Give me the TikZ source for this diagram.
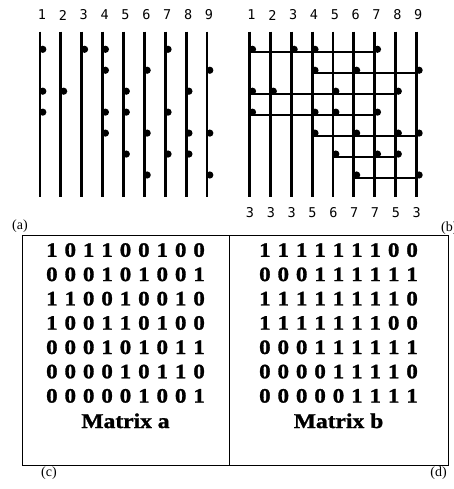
\documentclass[tikz,border=0pt]{standalone}
\usepackage{fontspec}
\setmainfont{Liberation Serif}
\newfontfamily\numfont{DejaVu Sans Mono}
\newfontfamily\matfont{Liberation Serif Bold}[FakeBold=1.2]
\begin{document}
\begin{tikzpicture}[x=1pt,y=-1pt,
  wire/.style={line width=2.9pt},
  hwire/.style={line width=1.8pt},
  dotc/.style={circle,fill=black,inner sep=0pt,minimum size=7.2pt},
  num/.style={font=\numfont\fontsize{13.5}{14}\selectfont,inner sep=0pt},
  cell/.style={font=\matfont\fontsize{20.5}{20.5}\selectfont,inner sep=0pt,anchor=base},
  lbl/.style={font=\fontsize{14}{14}\selectfont,inner sep=0pt,anchor=base},
  panel/.style={draw,line width=0.9pt,inner sep=0pt,anchor=north west,minimum height=230pt}
]
\useasboundingbox (0,0) rectangle (454,489);

% ---------- panel (a) ----------
\foreach \i in {1,...,9} {
  \coordinate (at\i) at ({40+20.875*(\i-1)},31.7);
  \coordinate (ab\i) at ({40+20.875*(\i-1)},196.7);
  \draw[wire] (at\i) -- (ab\i);
  \node[num] (an\i) at ({42+20.875*(\i-1)},15) {\i};
}
\foreach \r/\cols in {1/{1,3,4,7},2/{4,6,9},3/{1,2,5,8},4/{1,4,5,7},5/{4,6,8,9},6/{5,7,8},7/{6,9}} {
  \foreach \c in \cols {
    \node[dotc] (da\r-\c) at ({42.8+20.875*(\c-1)},{49.3+20.95*(\r-1)}) {};
  }
}

% ---------- panel (b) ----------
\foreach \i/\n in {1/3,2/3,3/3,4/5,5/6,6/7,7/7,8/5,9/3} {
  \coordinate (bt\i) at ({249.7+20.83*(\i-1)},31.7);
  \coordinate (bb\i) at ({249.7+20.83*(\i-1)},196.7);
  \draw[wire] (bt\i) -- (bb\i);
  \node[num] (bn\i) at ({251.5+20.83*(\i-1)},15) {\i};
  \node[num] (bm\i) at ({250+20.83*(\i-1)},213) {\n};
}
\foreach \r/\f/\l/\cols in {1/1/7/{1,3,4,7},2/4/9/{4,6,9},3/1/8/{1,2,5,8},4/1/7/{1,4,5,7},5/4/9/{4,6,8,9},6/5/8/{5,7,8},7/6/9/{6,9}} {
  \coordinate (hs\r) at ({249.7+20.83*(\f-1)},{52.3+20.95*(\r-1)});
  \coordinate (he\r) at ({249.7+20.83*(\l-1)},{52.3+20.95*(\r-1)});
  \draw[hwire] (hs\r) -- (he\r);
  \foreach \c in \cols {
    \node[dotc] (db\r-\c) at ({252.5+20.83*(\c-1)},{49.3+20.95*(\r-1)}) {};
  }
}

\node[lbl] (la) at (20,229.5) {(a)};
\node[lbl,anchor=base west] (lb) at (441,231) {(b)};

% ---------- panels (c), (d) ----------
\node[panel,minimum width=207.6pt] (boxc) at (21.7,235) {};
\node[panel,minimum width=218.4pt] (boxd) at (229.3,235) {};

\foreach \r/\row in {1/{1,0,1,1,0,0,1,0,0},2/{0,0,0,1,0,1,0,0,1},3/{1,1,0,0,1,0,0,1,0},4/{1,0,0,1,1,0,1,0,0},5/{0,0,0,1,0,1,0,1,1},6/{0,0,0,0,1,0,1,1,0},7/{0,0,0,0,0,1,0,0,1}} {
  \foreach \d [count=\c] in \row {
    \node[cell] (ca\r-\c) at ({51.9+18.4*(\c-1)},{256.8+24.3*(\r-1)}) {\scalebox{1.12}[1]{\d}};
  }
}
\foreach \r/\row in {1/{1,1,1,1,1,1,1,0,0},2/{0,0,0,1,1,1,1,1,1},3/{1,1,1,1,1,1,1,1,0},4/{1,1,1,1,1,1,1,0,0},5/{0,0,0,1,1,1,1,1,1},6/{0,0,0,0,1,1,1,1,0},7/{0,0,0,0,0,1,1,1,1}} {
  \foreach \d [count=\c] in \row {
    \node[cell] (cb\r-\c) at ({264.9+18.4*(\c-1)},{256.8+24.3*(\r-1)}) {\scalebox{1.12}[1]{\d}};
  }
}
\node[cell,font=\matfont\fontsize{21}{21}\selectfont] (ma) at (125.5,428) {\scalebox{1.12}[1]{Matrix a}};
\node[cell,font=\matfont\fontsize{21}{21}\selectfont] (mb) at (338.5,428) {\scalebox{1.12}[1]{Matrix b}};

\node[lbl] (lc) at (49,476.5) {(c)};
\node[lbl] (ld) at (438.5,476.5) {(d)};
\end{tikzpicture}
\end{document}
